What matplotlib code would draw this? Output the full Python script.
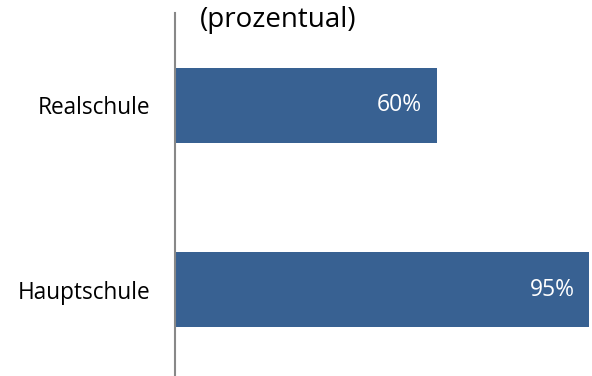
import matplotlib.pyplot as plt

schulen = ["Hauptschule", "Realschule"]
anteile = [95, 60]
titel = "(prozentual)"

plt.rcParams['font.family'] = ['Open Sans', 'DejaVu Sans']

fig = plt.figure(figsize=(5.92, 3.76), dpi=100)
W, H = 592, 376
# axis from x=175 px, 100% would sit at about x=611 px
x0, x1 = 175, 611
y_top, y_bot = 13, 382
ax = fig.add_axes([x0 / W, (H - y_bot) / H, (x1 - x0) / W, (y_bot - y_top) / H])

ypos = range(len(schulen))
ax.barh(ypos, anteile, height=0.405, color="#386192", edgecolor="none")
ax.set_xlim(0, 100)
ax.set_ylim(-0.5, 1.5)

for y, v in zip(ypos, anteile):
    ax.text(v - 3.3, y, f"{v}%", color="white", fontsize=16.5,
            ha="right", va="center")

ax.set_yticks(list(ypos))
ax.set_yticklabels(schulen, fontsize=16.3)
ax.tick_params(axis="y", length=0, pad=18)
ax.set_xticks([])
for s in ["top", "right", "bottom"]:
    ax.spines[s].set_visible(False)
ax.spines["left"].set_color("#888888")
ax.spines["left"].set_linewidth(1.5)

fig.text(278 / W, 1 - 20 / H, titel, fontsize=20, ha="center", va="center")

fig.savefig("out.png", dpi=100)
